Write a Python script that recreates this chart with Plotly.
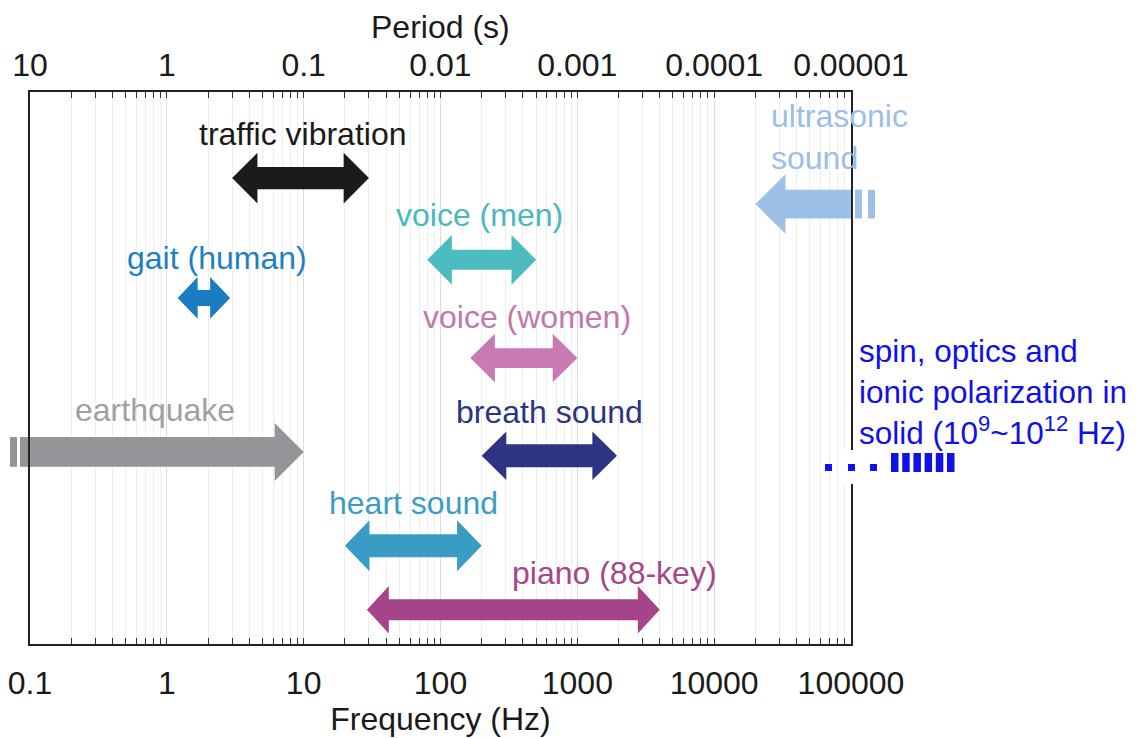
import numpy as np
import plotly.graph_objects as go

# ---------------- data ----------------
labels = ["traffic vibration", "gait (human)", "voice (men)", "voice (women)",
          "breath sound", "heart sound", "piano (88-key)"]
f_low = [3.0, 1.2, 80.0, 165.0, 200.0, 20.0, 29.0]          # Hz
f_high = [30.0, 2.9, 500.0, 1000.0, 1950.0, 200.0, 4000.0]  # Hz
lane = [8.44, 6.27, 6.96, 5.18, 3.41, 1.78, 0.62]           # vertical row

eq_label = "earthquake"
eq_low, eq_high, eq_lane = 0.1, 10.0, 3.48
us_label = "ultrasonic<br>sound"
us_low, us_high, us_lane = 20000.0, 100000.0, 7.97
spin_label = "spin, optics and<br>ionic polarization in<br>solid (10<sup>9</sup>~10<sup>12</sup> Hz)"

freq_ticks = [0.1, 1, 10, 100, 1000, 10000, 100000]
freq_text = ["0.1", "1", "10", "100", "1000", "10000", "100000"]
period_text = ["10", "1", "0.1", "0.01", "0.001", "0.0001", "0.00001"]

# ---------------- style ----------------
arrow_col = ["#1b1b1b", "#1a7cc1", "#4dbcc0", "#c97ab2", "#2e3382", "#3a9bc5", "#a6448a"]
text_col = ["#1a1a1a", "#1f7fc0", "#4ab9bd", "#c377ae", "#2d3480", "#3b9cc4", "#a6468c"]
# (head half-height, shaft half-height [lane units], head length [decades])
geom = [(0.46, 0.20, 0.185), (0.38, 0.145, 0.146), (0.45, 0.18, 0.18),
        (0.44, 0.18, 0.18), (0.44, 0.21, 0.18), (0.46, 0.21, 0.18),
        (0.43, 0.19, 0.16)]
# label anchor (Hz, lane units)
label_pos = [(9.9, 9.24), (2.33, 6.99), (194, 7.77), (429, 5.92),
             (631, 4.20), (64, 2.55), (1854, 1.29)]
eq_col, eq_tcol = "#939598", "#a0a0a2"
us_col, us_tcol = "#9dc0e8", "#9cbfe6"
spin_col = "#1010e8"
FONT = "Liberation Sans, Arial, Helvetica, sans-serif"
FS = 32

# page body has an 8px margin: shrink the figure accordingly
W, H = 1134, 730
L_MARGIN, T_MARGIN = 22, 84
PW, PH = 821, 552
R_MARGIN = W - L_MARGIN - PW
B_MARGIN = H - T_MARGIN - PH
AX_L, AX_B = 30, 644   # plot-area edges in screen pixels


def px2paper_x(px):
    return (px - AX_L) / PW


def py2paper(py):
    return (AX_B - py) / PH


def double_arrow(x0, x1, yc, hh, sh, hl):
    a, b = np.log10(x0), np.log10(x1)
    xs = [a, a + hl, a + hl, b - hl, b - hl, b, b - hl, b - hl, a + hl, a + hl, a]
    ys = [yc, yc + hh, yc + sh, yc + sh, yc + hh, yc, yc - hh, yc - sh, yc - sh, yc - hh, yc]
    return [10 ** v for v in xs], ys


def right_arrow(x0, x1, yc, hh, sh, hl):
    a, b = np.log10(x0), np.log10(x1)
    xs = [a, b - hl, b - hl, b, b - hl, b - hl, a, a]
    ys = [yc + sh, yc + sh, yc + hh, yc, yc - hh, yc - sh, yc - sh, yc + sh]
    return [10 ** v for v in xs], ys


def left_arrow(x0, x1, yc, hh, sh, hl):
    a, b = np.log10(x0), np.log10(x1)
    xs = [b, a + hl, a + hl, a, a + hl, a + hl, b, b]
    ys = [yc + sh, yc + sh, yc + hh, yc, yc - hh, yc - sh, yc - sh, yc + sh]
    return [10 ** v for v in xs], ys


fig = go.Figure()

for i in range(len(labels)):
    hh, sh, hl = geom[i]
    xs, ys = double_arrow(f_low[i], f_high[i], lane[i], hh, sh, hl)
    fig.add_trace(go.Scatter(x=xs, y=ys, mode="lines", fill="toself",
                             fillcolor=arrow_col[i], line=dict(width=0, color=arrow_col[i]),
                             hoverinfo="skip", showlegend=False))

xs, ys = right_arrow(eq_low, eq_high, eq_lane, 0.525, 0.27, 0.212)
fig.add_trace(go.Scatter(x=xs, y=ys, mode="lines", fill="toself", fillcolor=eq_col,
                         line=dict(width=0, color=eq_col), hoverinfo="skip", showlegend=False))
xs, ys = left_arrow(us_low, us_high, us_lane, 0.54, 0.26, 0.22)
fig.add_trace(go.Scatter(x=xs, y=ys, mode="lines", fill="toself", fillcolor=us_col,
                         line=dict(width=0, color=us_col), hoverinfo="skip", showlegend=False))

# dummy trace binding the top (period) axis
fig.add_trace(go.Scatter(x=freq_ticks, y=[None] * len(freq_ticks), xaxis="x2",
                         mode="markers", hoverinfo="skip", showlegend=False))

annotations = []
for i in range(len(labels)):
    annotations.append(dict(x=np.log10(label_pos[i][0]), y=label_pos[i][1], xref="x", yref="y",
                            text=labels[i], showarrow=False,
                            font=dict(family=FONT, size=FS, color=text_col[i])))
annotations.append(dict(x=np.log10(0.82), y=4.24, xref="x", yref="y", text=eq_label,
                        showarrow=False, font=dict(family=FONT, size=FS, color=eq_tcol)))
annotations.append(dict(x=np.log10(25200), y=9.18, xref="x", yref="y", text=us_label,
                        showarrow=False, xanchor="left", align="left",
                        font=dict(family=FONT, size=FS, color=us_tcol)))
annotations.append(dict(x=px2paper_x(857), y=py2paper(392),
                        xref="paper", yref="paper", text=spin_label, showarrow=False,
                        xanchor="left", align="left",
                        font=dict(family=FONT, size=31.5, color=spin_col)))
# top axis title
annotations.append(dict(x=0.5, y=py2paper(27), xref="paper", yref="paper",
                        text="Period (s)", showarrow=False, yanchor="middle",
                        font=dict(family=FONT, size=FS, color="#1a1a1a")))

shapes = []
# break marks of the open-ended arrows
for (p0, p1) in [(10, 17), (20, 28)]:
    shapes.append(dict(type="rect", xref="paper", yref="paper",
                       x0=px2paper_x(p0), x1=px2paper_x(p1),
                       y0=(eq_lane - 0.27) / 10, y1=(eq_lane + 0.27) / 10,
                       fillcolor=eq_col, line=dict(width=0), layer="above"))
for (p0, p1) in [(855, 862), (868, 875)]:
    shapes.append(dict(type="rect", xref="paper", yref="paper",
                       x0=px2paper_x(p0), x1=px2paper_x(p1),
                       y0=(us_lane - 0.26) / 10, y1=(us_lane + 0.26) / 10,
                       fillcolor=us_col, line=dict(width=0), layer="above"))
# spin marks
shapes.append(dict(type="rect", xref="paper", yref="paper", x0=px2paper_x(841), x1=px2paper_x(862),
                   y0=py2paper(484), y1=py2paper(450), fillcolor="white", line=dict(width=0),
                   layer="above"))
for p0 in [825, 848, 870]:
    shapes.append(dict(type="rect", xref="paper", yref="paper", x0=px2paper_x(p0),
                       x1=px2paper_x(p0 + 7), y0=py2paper(471), y1=py2paper(464),
                       fillcolor=spin_col, line=dict(width=0), layer="above"))
for k in range(6):
    p0 = 891 + 11.2 * k
    shapes.append(dict(type="rect", xref="paper", yref="paper", x0=px2paper_x(p0),
                       x1=px2paper_x(p0 + 7.5), y0=py2paper(472), y1=py2paper(453),
                       fillcolor=spin_col, line=dict(width=0), layer="above"))

minor_vals = [m * 10.0 ** e for e in range(-1, 5) for m in range(2, 10)]
tickfont = dict(family=FONT, size=FS, color="#1a1a1a")
axis_common = dict(type="log", range=[-1, 5], tickmode="array", tickvals=freq_ticks,
                   ticks="inside", ticklen=6, tickwidth=1, tickcolor="#333",
                   showline=True, linecolor="#222", linewidth=1.5, zeroline=False,
                   automargin=False, tickfont=tickfont, ticklabeloverflow="allow")

fig.update_layout(
    width=W, height=H,
    margin=dict(l=L_MARGIN, r=R_MARGIN, t=T_MARGIN, b=B_MARGIN),
    paper_bgcolor="white", plot_bgcolor="white",
    showlegend=False,
    font=dict(family=FONT, size=FS, color="#1a1a1a"),
    xaxis=dict(**axis_common, ticktext=freq_text, showgrid=True, gridcolor="#dcdcdc",
               gridwidth=1,
               minor=dict(tickvals=minor_vals, ticks="inside", ticklen=6, tickcolor="#333",
                          showgrid=True, gridcolor="#eeeeee", gridwidth=1),
               title=dict(text="Frequency (Hz)", font=dict(family=FONT, size=FS, color="#1a1a1a"),
                          standoff=4),
               ticklabelstandoff=10),
    xaxis2=dict(**axis_common, ticktext=period_text, overlaying="x", side="top",
                showgrid=False,
                minor=dict(tickvals=minor_vals, ticks="inside", ticklen=6, tickcolor="#333",
                           showgrid=False),
                ticklabelstandoff=1),
    yaxis=dict(range=[0, 10], showticklabels=False, ticks="", showgrid=False, zeroline=False,
               showline=True, mirror=True, linecolor="#222", linewidth=1.5, automargin=False),
    annotations=annotations,
    shapes=shapes,
)

fig.write_html("out.html")
